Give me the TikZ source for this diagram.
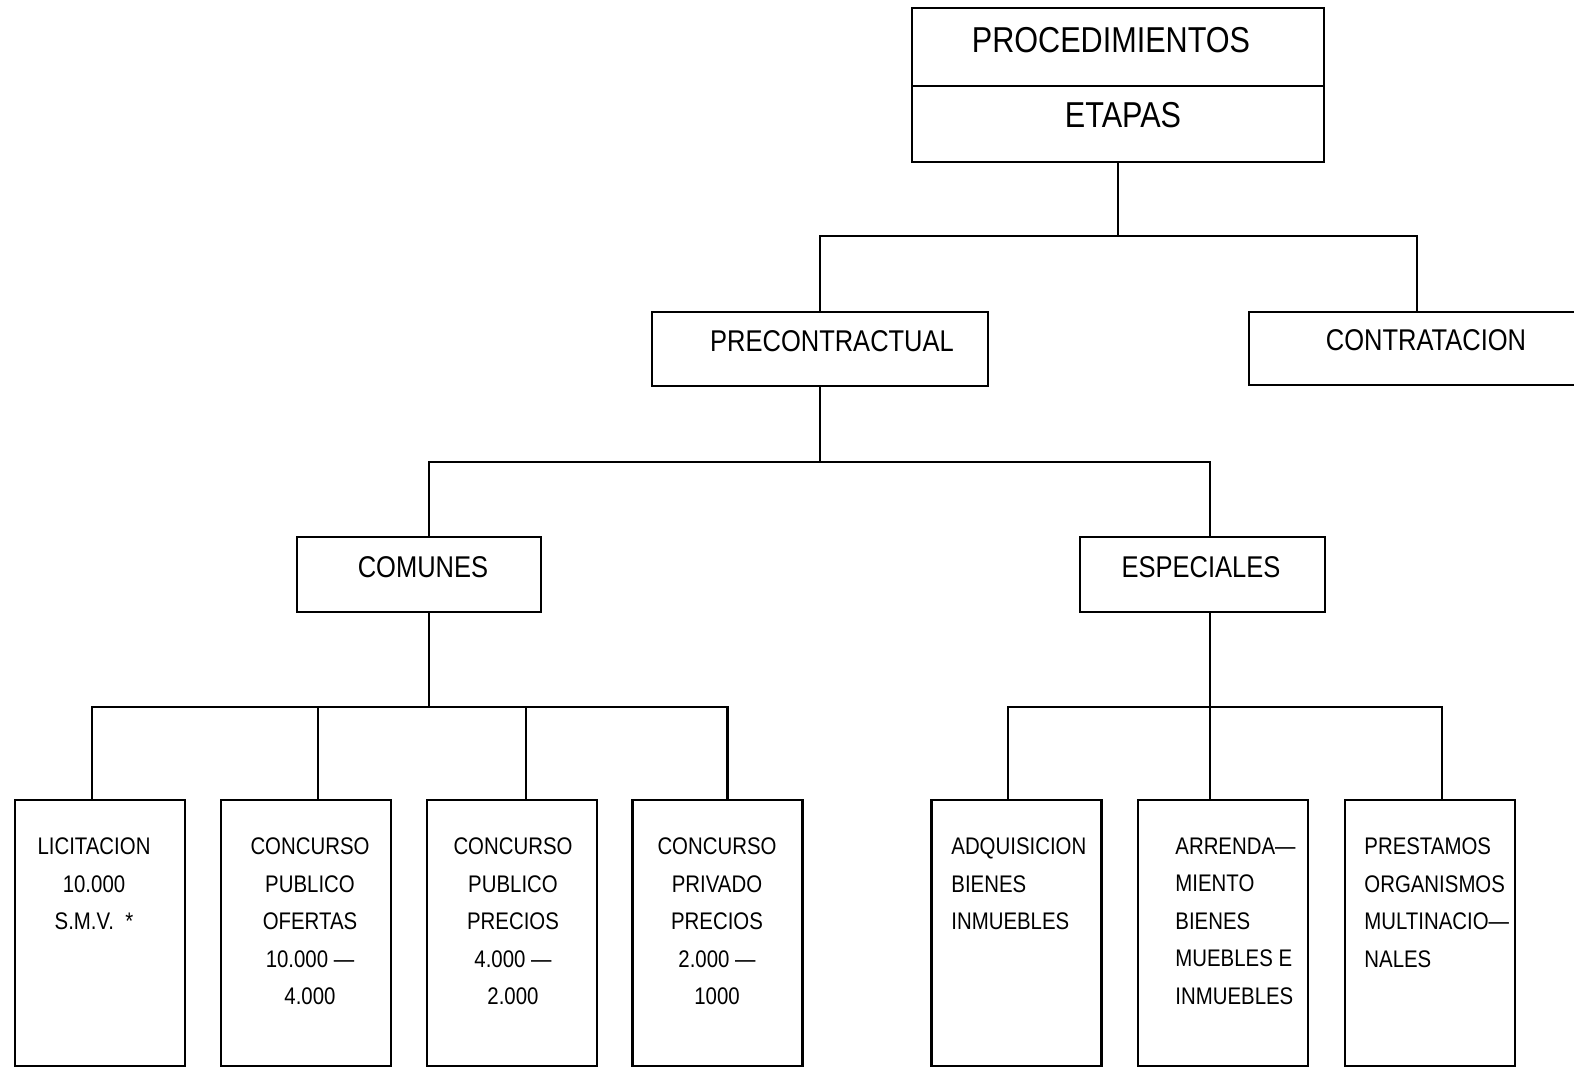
\documentclass[tikz,border=0pt]{standalone}
\usepackage{fontspec}
\setmainfont{Liberation Sans}[FakeStretch=0.85]
\tikzset{
  bx/.style={draw, line width=1.2pt, inner sep=0pt, outer sep=0pt, rectangle},
  ln/.style={line width=1.2pt},
  bigtxt/.style={font=\fontsize{18}{22}\selectfont, inner sep=0pt},
  midtxt/.style={font=\fontsize{15}{18}\selectfont, inner sep=0pt},
  smltxt/.style={font=\fontsize{12}{18.75}\selectfont, inner sep=0pt, anchor=north},
  lefttxt/.style={smltxt, anchor=north west, align=left},
  ctrtxt/.style={smltxt, align=center},
  leaf/.style={bx, minimum width=85pt, minimum height=133pt},
}
\begin{document}
\begin{tikzpicture}[x=0.5pt, y=-0.5pt]
\useasboundingbox (0,0) rectangle (1574,1068);
\clip (0,0) rectangle (1574,1068);

% top
\node[bx, minimum width=206pt, minimum height=39pt] (proc) at (1118,47) {};
\node[bx, minimum width=206pt, minimum height=38pt] (etap) at (1118,124) {};
\node[bigtxt] (tproc) at (1111,40) {PROCEDIMIENTOS};
\node[bigtxt] (tetap) at (1123,115) {ETAPAS};

% level 1
\node[bx, minimum width=168pt, minimum height=37pt] (precon) at (820,349) {};
\node[midtxt] (tprecon) at (832,341) {PRECONTRACTUAL};
\node[bx, minimum width=168pt, minimum height=36.5pt] (contrat) at (1417,348.5) {};
\node[midtxt] (tcontrat) at (1426,340) {CONTRATACION};

% level 2
\node[bx, minimum width=122pt, minimum height=37.5pt] (comunes) at (419,574.5) {};
\node[midtxt] (tcomunes) at (423,567) {COMUNES};
\node[bx, minimum width=122.5pt, minimum height=37.5pt] (espec) at (1202.5,574.5) {};
\node[midtxt] (tespec) at (1201,567) {ESPECIALES};

% leaves
\node[leaf] (n1) at (100,933) {};
\node[leaf] (n2) at (306,933) {};
\node[leaf] (n3) at (512,933) {};
\node[leaf] (n4) at (717.5,933) {};
\node[leaf] (n5) at (1016.5,933) {};
\node[leaf] (n6) at (1223,933) {};
\node[leaf] (n7) at (1430,933) {};

\node[ctrtxt] (t1) at (94,837.5) {LICITACION\\10.000\\S.M.V.~~*};
\node[ctrtxt] (t2) at (310,837.5) {CONCURSO\\PUBLICO\\OFERTAS\\10.000 ---\\4.000};
\node[ctrtxt] (t3) at (513,837.5) {CONCURSO\\PUBLICO\\PRECIOS\\4.000 ---\\2.000};
\node[ctrtxt] (t4) at (717,837.5) {CONCURSO\\PRIVADO\\PRECIOS\\2.000 ---\\1000};
\node[lefttxt] (t5) at (951,837.5) {ADQUISICION\\BIENES\\INMUEBLES};
\node[lefttxt] (t6) at (1175,837.5) {ARRENDA---\\MIENTO\\BIENES\\MUEBLES E\\INMUEBLES};
\node[lefttxt] (t7) at (1364,837.5) {PRESTAMOS\\ORGANISMOS\\MULTINACIO---\\NALES};

% connectors
\coordinate (b1) at (1118,236);
\draw[ln] (etap.south) -- (b1);
\draw[ln] (b1) -| (precon.north);
\draw[ln] (b1) -| (contrat.north);

\coordinate (b2) at (820,462);
\draw[ln] (precon.south) -- (b2);
\draw[ln] (b2) -| ([xshift=5pt]comunes.north);
\draw[ln] (b2) -| ([xshift=3.75pt]espec.north);

\coordinate (b3) at (429,707);
\draw[ln] ([xshift=5pt]comunes.south) -- (b3);
\draw[ln] (b3) -| ([xshift=-4pt]n1.north);
\draw[ln] (b3) -| ([xshift=6pt]n2.north);
\draw[ln] (b3) -| ([xshift=7pt]n3.north);
\draw[ln] (b3) -| ([xshift=5pt]n4.north);

\coordinate (b4) at (1210,707);
\draw[ln] ([xshift=3.75pt]espec.south) -- (b4);
\draw[ln] (b4) -| ([xshift=-4.25pt]n5.north);
\draw[ln] (b4) -| ([xshift=-6.5pt]n6.north);
\draw[ln] (b4) -| ([xshift=6pt]n7.north);
\end{tikzpicture}
\end{document}
